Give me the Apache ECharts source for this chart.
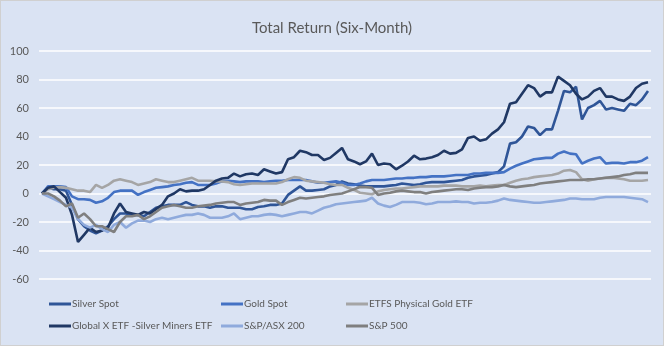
<!DOCTYPE html>
<html><head><meta charset="utf-8">
<script src="https://cdn.jsdelivr.net/npm/echarts@6/dist/echarts.min.js"></script>
<style>html,body{margin:0;padding:0;background:#fff}#c{width:664px;height:346px;box-sizing:border-box;border:1px solid #D0D0D0}</style>
</head><body><div id="c"></div>
<script>
const yTicks = [-60,-40,-20,0,20,40,60,80,100];
const seriesNames = ["Silver Spot","Gold Spot","ETFS Physical Gold ETF","Global X ETF -Silver Miners ETF","S&P/ASX 200","S&P 500"];
const silverSpot = [0,4,3,3,2,-8,-18,-23,-26,-28,-26,-23,-18,-14,-14,-15,-15,-16,-13,-10,-9,-8,-8,-8,-6,-8,-9,-9,-10,-9,-9,-10,-10,-10,-11,-11,-9.5,-9,-8,-8,-7,-1,2,5,2,2,2.5,3,5,6,8.5,7,6.5,5.5,5,5,5,5,5.5,6,7,6.5,6,6.5,7.5,8,8,8,8.5,9,9.5,11,12,12.5,13,14,15,19,35,36,40,47,46,41,45,45,58,72,71,75,52,60,62,65,59,60,59,58,63,62,66,72];
const goldSpot = [0,5,5,5,4.5,-2,-4,-4,-4.5,-6.5,-5.5,-3,1,2,2,2,-1,1,2.5,4,4.5,5,6,6.5,7.5,8,6,6,6,7,8.5,9,8.5,8,8.5,8.5,8.5,8,8.5,9,9,9.5,9.5,9.5,9.5,8.5,7.5,7.5,8,8.5,7.5,6,6,7,8.5,9.5,9.5,9.5,10,10.5,10.5,11,11,11.5,11.5,12,12,12,12.5,13,13,13,14,14,14.5,14.5,14.5,15,17.5,19.5,21,22.5,24,24.5,25,25,28,29.5,28,27.5,21,23,24.5,25.5,21,21.5,21.5,21,22,22,23,25.5];
const etfsGold = [0,3,4,4.5,4,3,2,2,1,6,4,6,9,10,9,8,6,7,8,10,9,8,8,9,10,11,9,9,9,8.5,8.4,8,6.5,6,6.5,7,7,7,7,7,8,10,11.5,11,9,8.5,8,7.5,6.5,6,6,4,2.5,0.5,0,-0.5,1.5,2.5,3,3.5,3.5,4,4.5,5,5,5,5,5.5,5.5,5.5,5,5,5,5.5,5,5.5,6,6,7.5,9,10,10.5,11.5,12,12.5,13,14,16,16.5,15,10,9,10,10.5,11,11,10.5,10,9,9,9,9.5];
const globalX = [0,4,5,1,-3,-15,-34,-29,-24,-27,-26,-24,-14,-7,-13,-14,-15,-13,-14,-11,-8,-2,0,3,1.5,2,2,3,6,9,10.5,11,14,12,13.5,14,13,17,15.5,14,15,24,25.5,30,29,27,27,23.5,25,28.5,32,24,22.5,20.5,22.5,28,20,21,20.5,17,19.5,22.5,26.5,24,24.5,25.5,27,30,28,28.5,31,39,40,37,38,42,45,50,63,64,70,76,74,68,71,71,82,79,76,70,66,68,72,74,68,68,66,65,68,74,77,78];
const asx200 = [0,-2,-4,-6,-8,-10,-18,-22,-24,-22,-25,-27,-22,-20,-24,-21,-19,-19,-20,-18,-17,-18,-17,-16,-15,-15,-14,-15,-17,-17,-17,-16,-14,-18,-17,-16,-16,-15,-14.5,-15,-16,-15,-14,-13,-13,-14,-12,-10,-9,-7.5,-7,-6.5,-6,-5.5,-5,-3,-7,-8.5,-9.5,-8,-6,-6,-6,-6.5,-7.5,-7,-6,-6,-6,-5.5,-6,-6,-7,-6.5,-6.5,-6,-5,-3.5,-4.5,-5,-5.5,-6,-6.5,-6.5,-6,-5.5,-5,-4.5,-3.5,-3.5,-4,-4,-4,-3,-2.5,-2.5,-2.5,-2.5,-3,-3.5,-4,-6];
const sp500 = [0,0,-2,-5,-9,-7,-17,-14,-18,-23,-23,-25,-27,-20,-16,-16,-15,-18,-16,-13,-10,-9,-8,-9,-10,-10,-9,-8.5,-8,-7,-6.5,-6,-6,-8,-7,-6.5,-6,-4.5,-5,-5,-8,-6,-4.5,-3,-3.5,-3,-2.5,-2,-1,-0.5,0,1.5,3,4.5,4.5,4,-1,0,0.5,1.5,2,1.5,1,1,0,1,1.5,2,2.5,3,3,2.5,3.5,4,4.5,4.5,5,6,5,4.5,5,5.5,6,7,7.5,8,8.5,9,9.5,9.5,9.5,10,10,10.5,11,11.5,12,13,13.5,14.5,14.5,14.5];
const days = silverSpot.map((_, i) => i + 1);

const values = [silverSpot, goldSpot, etfsGold, globalX, asx200, sp500];
const colors = ["#2F5597","#4472C4","#A5A5A5","#203864","#8FAADC","#7F7F7F"];
const font = "Lato, 'Liberation Sans', sans-serif";
const legendPos = [[48,298],[220,298],[345,298],[48,320],[220,320],[345,320]];

const chart = echarts.init(document.getElementById('c'));
chart.setOption({
  animation: false,
  backgroundColor: '#DAE3F3',
  title: { text: 'Total Return (Six-Month)', left: 'center', top: 15,
    textStyle: { fontFamily: font, fontSize: 15, fontWeight: 'normal', color: '#595959' } },
  legend: seriesNames.map((n, i) => ({
    data: [n], left: legendPos[i][0], top: legendPos[i][1], icon: 'rect',
    itemWidth: 22, itemHeight: 3, padding: 0,
    textStyle: { fontFamily: font, fontSize: 10, color: '#595959', padding: [0, 0, 0, -4] }
  })),
  grid: { left: 38, right: 12, top: 50, bottom: 66 },
  xAxis: { type: 'category', data: days, boundaryGap: true,
    axisLine: { show: false }, axisTick: { show: false }, axisLabel: { show: false }, splitLine: { show: false } },
  yAxis: { type: 'value', min: yTicks[0], max: yTicks[yTicks.length - 1], interval: 20,
    axisLine: { show: false }, axisTick: { show: false },
    axisLabel: { fontFamily: font, fontSize: 11, color: '#595959', margin: 10 },
    splitLine: { lineStyle: { color: '#FFFFFF', width: 1.5 } } },
  series: seriesNames.map((n, i) => ({
    name: n, type: 'line', data: values[i], symbol: 'none', smooth: false,
    lineStyle: { width: 2.6, color: colors[i] }, itemStyle: { color: colors[i] }
  }))
});
</script></body></html>
